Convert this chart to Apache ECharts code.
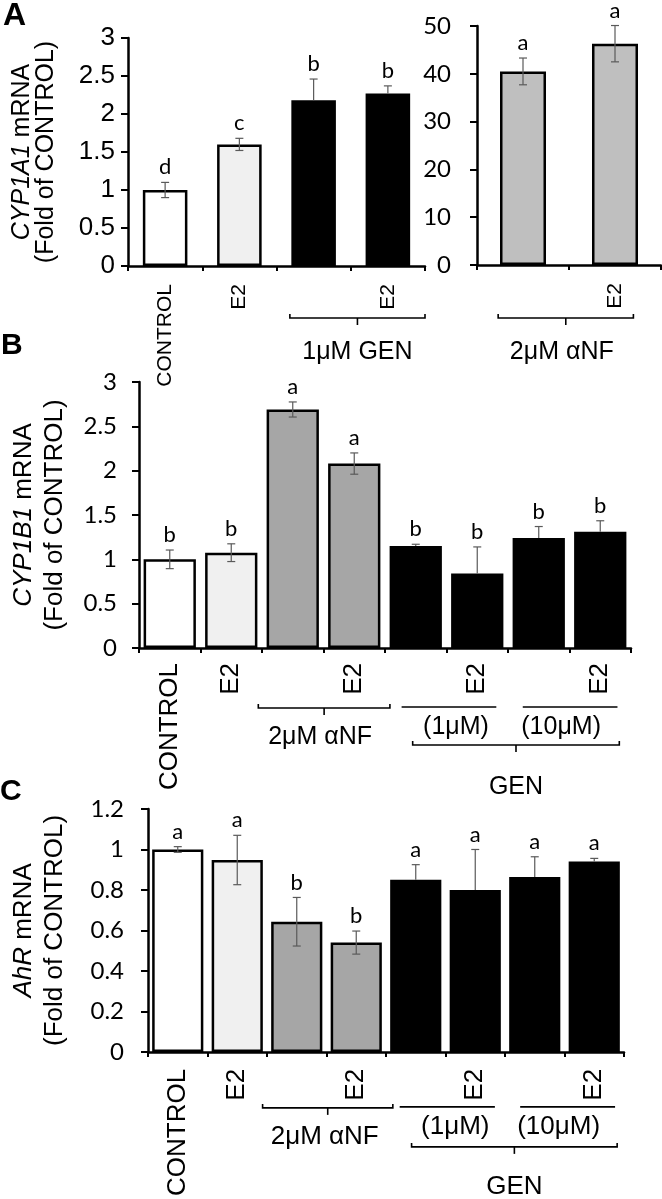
<!DOCTYPE html>
<html><head><meta charset="utf-8">
<script src="https://cdn.jsdelivr.net/npm/echarts@6/dist/echarts.min.js"></script>
<style>html,body{margin:0;padding:0;background:#fff}#c{width:662px;height:1199px}</style>
</head><body><div id="c"></div>
<script>
// ---------------- DATA ----------------
// Panel A (CYP1A1), left part
const catsA1 = ['CONTROL', 'E2', '', 'E2'];
const groupA1 = ['ctrl', 'e2', 'gen', 'gen'];
const valsA1 = [1.0, 1.6, 2.18, 2.27];
const errA1 = [0.1, 0.08, 0.28, 0.1];
const letA1 = ['d', 'c', 'b', 'b'];
const yTicksA1 = [0, 0.5, 1, 1.5, 2, 2.5, 3];
// Panel A, right part
const catsA2 = ['', 'E2'];
const groupA2 = ['anfA', 'anfA'];
const valsA2 = [40.5, 46.3];
const errA2 = [2.8, 3.8];
const letA2 = ['a', 'a'];
const yTicksA2 = [0, 10, 20, 30, 40, 50];
// Panel B (CYP1B1)
const catsB = ['CONTROL', 'E2', '', 'E2', '', 'E2', '', 'E2'];
const groupB = ['ctrl', 'e2', 'anf', 'anf', 'gen', 'gen', 'gen', 'gen'];
const valsB = [1.0, 1.075, 2.69, 2.08, 1.15, 0.84, 1.24, 1.31];
const errB = [0.105, 0.1, 0.085, 0.12, 0.02, 0.3, 0.13, 0.125];
const letB = ['b', 'b', 'a', 'a', 'b', 'b', 'b', 'b'];
const yTicksB = [0, 0.5, 1, 1.5, 2, 2.5, 3];
// Panel C (AhR)
const catsC = ['CONTROL', 'E2', '', 'E2', '', 'E2', '', 'E2'];
const groupC = ['ctrl', 'e2', 'anf', 'anf', 'gen', 'gen', 'gen', 'gen'];
const valsC = [1.0, 0.948, 0.643, 0.54, 0.851, 0.80, 0.864, 0.94];
const errC = [0.014, 0.122, 0.12, 0.057, 0.074, 0.2, 0.1, 0.016];
const letC = ['a', 'a', 'b', 'b', 'a', 'a', 'a', 'a'];
const yTicksC = [0, 0.2, 0.4, 0.6, 0.8, 1, 1.2];
// group brackets (category spans + text)
const brA1 = [{from: 2, to: 3, kind: 'brace', text: '1\u03bcM GEN'}];
const brA2 = [{from: 0, to: 1, kind: 'brace', text: '2\u03bcM \u03b1NF'}];
const brB = [
  {from: 2, to: 3, kind: 'brace', text: '2\u03bcM \u03b1NF'},
  {from: 4, to: 5, kind: 'line', text: '(1\u03bcM)'},
  {from: 6, to: 7, kind: 'line', text: '(10\u03bcM)'},
  {from: 4, to: 7, kind: 'brace', text: 'GEN'}
];
const brC = brB.map(b => Object.assign({}, b));

// ---------------- LAYOUT / STYLE ----------------
const fills = {ctrl: '#ffffff', e2: '#f0f0f0', anf: '#a6a6a6', anfA: '#bfbfbf', gen: '#000000'};
const ARIAL = '"Liberation Sans", Arial, sans-serif';
const CAL = 'Lato, "Open Sans", sans-serif';

const panels = [
  {cats: catsA1, group: groupA1, vals: valsA1, err: errA1, let: letA1, ticks: yTicksA1, br: brA1,
   grid: {left: 128, top: 38, width: 297, height: 228}, barWidth: '60%', bw: 2.5,
   tickFont: ARIAL, tickSize: 26, labMargin: 13, xFont: 21, xMargin: 18,
   name: '{i|CYP1A1} mRNA\n(Fold of CONTROL)', nameSize: 25, nameLH: 24, nameGap: 70,
   brLayout: [{l: 0.18, r: 0, dy: 52, ty: 86, tx: 0}], brFont: 25},
  {cats: catsA2, group: groupA2, vals: valsA2, err: errA2, let: letA2, ticks: yTicksA2, br: brA2,
   grid: {left: 477, top: 26, width: 184, height: 239}, barWidth: '50%', bw: 2.5,
   tickFont: CAL, tickSize: 24, labMargin: 26, xFont: 21, xMargin: 18,
   name: '', brLayout: [{l: 0.23, r: 0.3, dy: 53, ty: 87, tx: -4}], brFont: 25},
  {cats: catsB, group: groupB, vals: valsB, err: errB, let: letB, ticks: yTicksB, br: brB,
   grid: {left: 130, top: 382, width: 501, height: 266}, barWidth: '85%', bw: 2.5,
   tickFont: CAL, tickSize: 24, labMargin: 22, xFont: 26, xMargin: 15,
   name: '{i|CYP1B1} mRNA\n(Fold of CONTROL)', nameSize: 26, nameLH: 31, nameGap: 69,
   brLayout: [{l: -0.06, r: -0.08, dy: 60, ty: 89, tx: -4}, {l: 0.27, r: 0.19, dy: 59, ty: 79, tx: 7},
              {l: 0.24, r: 0.22, dy: 59, ty: 79, tx: -9}, {l: 0.45, r: 0.19, dy: 97, ty: 139, tx: 0}], brFont: 25},
  {cats: catsC, group: groupC, vals: valsC, err: errC, let: letC, ticks: yTicksC, br: brC,
   grid: {left: 137, top: 809, width: 487, height: 243}, barWidth: '86%', bw: 2.5,
   tickFont: CAL, tickSize: 24, labMargin: 24, xFont: 26, xMargin: 17,
   name: '{i|AhR} mRNA\n(Fold of CONTROL)', nameSize: 26, nameLH: 31, nameGap: 78,
   brLayout: [{l: -0.074, r: -0.115, dy: 56, ty: 85, tx: -3}, {l: 0.23, r: 0.17, dy: 55, ty: 75, tx: 8},
              {l: 0.255, r: 0.15, dy: 55, ty: 75, tx: -9}, {l: 0.43, r: 0.115, dy: 95, ty: 135, tx: 0}], brFont: 26}
];

const grid = [], xAxis = [], yAxis = [], series = [];
panels.forEach((p, k) => {
  grid.push(Object.assign({containLabel: false}, p.grid));
  xAxis.push({
    type: 'category', gridIndex: k, data: p.cats,
    axisLine: {show: true, lineStyle: {color: '#000', width: 2.5}},
    axisTick: {show: true, length: 5, lineStyle: {color: '#000', width: 2}},
    axisLabel: {show: true, rotate: 90, interval: 0, color: '#000', fontFamily: ARIAL, fontSize: p.xFont, margin: p.xMargin},
    splitLine: {show: false}
  });
  const t = p.ticks;
  yAxis.push({
    type: 'value', gridIndex: k, min: t[0], max: t[t.length - 1], interval: t[1] - t[0],
    axisLine: {show: true, lineStyle: {color: '#000', width: 2.5}},
    axisTick: {show: true, length: 7, lineStyle: {color: '#000', width: 2}},
    axisLabel: {color: '#000', fontFamily: p.tickFont, fontSize: p.tickSize, margin: p.labMargin},
    splitLine: {show: false},
    name: p.name, nameLocation: 'middle', nameRotate: 90, nameGap: p.nameGap || 0,
    nameTextStyle: {color: '#000', fontFamily: ARIAL, fontSize: p.nameSize || 24, lineHeight: p.nameLH || 24, align: 'center',
      rich: {i: {fontStyle: 'italic', color: '#000', fontFamily: ARIAL, fontSize: p.nameSize || 24, lineHeight: p.nameLH || 24}}}
  });
  series.push({
    type: 'bar', xAxisIndex: k, yAxisIndex: k, barWidth: p.barWidth, silent: true,
    itemStyle: {borderColor: '#000', borderWidth: p.bw},
    data: p.vals.map((v, i) => ({value: v, itemStyle: {color: fills[p.group[i]], borderColor: '#000', borderWidth: p.bw}}))
  });
  series.push({
    type: 'custom', xAxisIndex: k, yAxisIndex: k, z: 5, silent: true, clip: false,
    data: p.vals.map((v, i) => [i, v]),
    renderItem: function (params, api) {
      const i = params.dataIndex, v = p.vals[i], e = p.err[i];
      const top = api.coord([i, v + e]), mid = api.coord([i, v]), bot = api.coord([i, v - e]);
      const cap = 4, st = {stroke: '#5a5a5a', lineWidth: 1.2};
      const ch = [
        {type: 'line', shape: {x1: top[0], y1: top[1], x2: mid[0], y2: mid[1]}, style: st},
        {type: 'line', shape: {x1: top[0] - cap, y1: top[1], x2: top[0] + cap, y2: top[1]}, style: st}
      ];
      if (p.group[i] !== 'gen') {
        ch.push({type: 'line', shape: {x1: mid[0], y1: mid[1], x2: bot[0], y2: bot[1]}, style: st});
        ch.push({type: 'line', shape: {x1: bot[0] - cap, y1: bot[1], x2: bot[0] + cap, y2: bot[1]}, style: st});
      }
      ch.push({type: 'text', style: {text: p.let[i], x: top[0], y: top[1] - 4, align: 'center', verticalAlign: 'bottom',
        fill: '#000', fontFamily: CAL, fontSize: 22}});
      return {type: 'group', children: ch};
    }
  });
  series.push({
    type: 'custom', xAxisIndex: k, yAxisIndex: k, z: 5, silent: true, clip: false,
    data: p.br.map(b => [b.from, 0]),
    renderItem: function (params, api) {
      const b = p.br[params.dataIndex], L = p.brLayout[params.dataIndex];
      const bwid = api.size([1, 0])[0];
      const c0 = api.coord([b.from, 0]), c1 = api.coord([b.to, 0]);
      const x0 = c0[0] - bwid / 2 + L.l * bwid, x1 = c1[0] + bwid / 2 - L.r * bwid;
      const y = c0[1] + L.dy, xm = (x0 + x1) / 2;
      const st = {stroke: '#000', lineWidth: 1.6, fill: null};
      const ch = [];
      if (b.kind === 'brace') {
        ch.push({type: 'polyline', shape: {points: [[x0, y - 4], [x0, y], [x1, y], [x1, y - 4]]}, style: st});
        ch.push({type: 'line', shape: {x1: xm, y1: y, x2: xm, y2: y + 7}, style: st});
      } else {
        ch.push({type: 'line', shape: {x1: x0, y1: y, x2: x1, y2: y}, style: st});
      }
      ch.push({type: 'text', style: {text: b.text, x: xm + L.tx, y: c0[1] + L.ty, align: 'center', verticalAlign: 'middle',
        fill: '#000', fontFamily: ARIAL, fontSize: p.brFont}});
      return {type: 'group', children: ch};
    }
  });
});

const chart = echarts.init(document.getElementById('c'));
chart.setOption({
  animation: false,
  backgroundColor: '#fff',
  grid, xAxis, yAxis, series,
  graphic: [
    {type: 'text', left: 3, top: 0, style: {text: 'A', font: 'bold 32px "Liberation Sans", Arial', fill: '#000'}},
    {type: 'text', left: 1, top: 331, style: {text: 'B', font: 'bold 30px "Liberation Sans", Arial', fill: '#000'}},
    {type: 'text', left: 0, top: 777, style: {text: 'C', font: 'bold 30px "Liberation Sans", Arial', fill: '#000'}}
  ]
});
</script></body></html>
